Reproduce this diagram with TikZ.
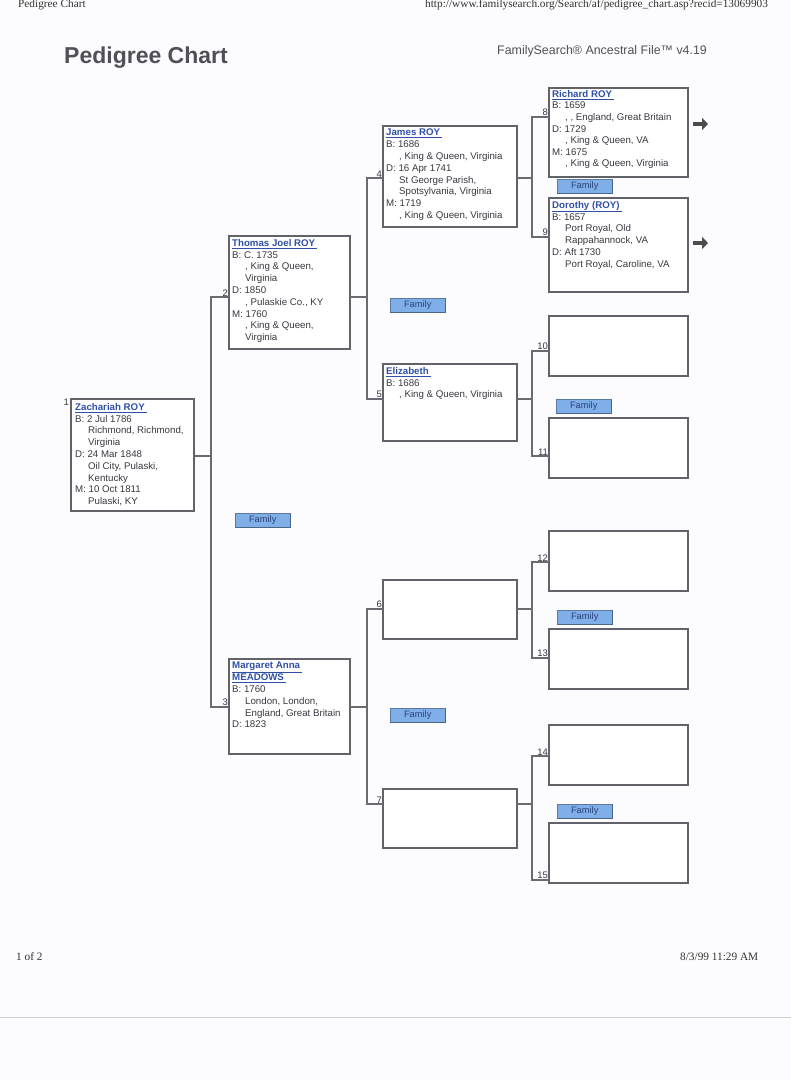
\documentclass[tikz,border=0pt]{standalone}
\usepackage{fontspec}
\setmainfont{Liberation Sans}
\newfontfamily\timesf{Liberation Serif}
\usetikzlibrary{arrows.meta}
\definecolor{pagebg}{HTML}{FCFBFD}
\definecolor{boxline}{HTML}{62626A}
\definecolor{connline}{HTML}{6A6A72}
\definecolor{infotext}{HTML}{383840}
\definecolor{namecol}{HTML}{3050A8}
\definecolor{famfill}{HTML}{80AEE8}
\definecolor{famedge}{HTML}{4A6688}
\definecolor{famtext}{HTML}{2A4478}
\definecolor{titlecol}{HTML}{505058}
\newcommand\pname[1]{\textcolor{namecol}{\bfseries\underline{#1\kern2pt}}}
\newcommand\cnt{\hspace*{13pt}}
\begin{document}
\begin{tikzpicture}[x=1pt,y=-1pt,
  pbox/.style={draw=boxline, line width=1.3pt, fill=white, anchor=north west, inner sep=0pt, outer sep=0pt},
  info/.style={anchor=north west, inner sep=0pt, align=left, font=\fontsize{9.7}{11.8}\selectfont, text=infotext},
  conn/.style={draw=connline, line width=1.1pt},
  numlab/.style={anchor=south east, inner sep=0.8pt, font=\fontsize{9.5}{10}\selectfont, text=infotext},
  fambtn/.style={anchor=north west, fill=famfill, draw=famfill!70!black, line width=0.5pt, minimum width=55pt, minimum height=14pt, inner sep=0pt, font=\fontsize{9.3}{10}\selectfont, text=famtext},
  famshade/.style={draw=famedge, line width=1.2pt},
  morearrow/.style={draw=black!70, line width=4.5pt, -{Triangle[length=6pt,width=12pt]}},
  smallserif/.style={anchor=base west, inner sep=0pt, font=\timesf\fontsize{11.3}{12}\selectfont, text=black!80}]
\useasboundingbox (0,0) rectangle (791,1080);
\fill[pagebg] (0,0) rectangle (791,1080);
\draw[black!18, line width=1pt] (0,1017) -- (791,1017);

% header / footer
\node[smallserif] (hdl) at (18,7) {Pedigree Chart};
\node[smallserif] (hdr) at (425,7) {http://www.familysearch.org/Search/af/pedigree\_chart.asp?recid=13069903};
\node[anchor=base west, inner sep=0pt, font=\bfseries\fontsize{23}{26}\selectfont, text=titlecol] (title) at (64,63) {Pedigree Chart};
\node[anchor=base west, inner sep=0pt, font=\fontsize{12.4}{14}\selectfont, text=titlecol] (fs) at (497,54) {FamilySearch® Ancestral File™ v4.19};
\node[smallserif] (ft1) at (16,960) {1 of 2};
\node[smallserif] (ft2) at (680,960) {8/3/99 11:29 AM};

% boxes
\node[pbox, minimum width=123pt, minimum height=112pt] (p1) at (71,399) {};
\node[pbox, minimum width=121pt, minimum height=113pt] (p2) at (229,236) {};
\node[pbox, minimum width=121pt, minimum height=95pt] (p3) at (229,659) {};
\node[pbox, minimum width=134pt, minimum height=101pt] (p4) at (383,126) {};
\node[pbox, minimum width=134pt, minimum height=77pt] (p5) at (383,364) {};
\node[pbox, minimum width=134pt, minimum height=59pt] (p6) at (383,580) {};
\node[pbox, minimum width=134pt, minimum height=59pt] (p7) at (383,789) {};
\node[pbox, minimum width=139pt, minimum height=89pt] (p8) at (549,88) {};
\node[pbox, minimum width=139pt, minimum height=94pt] (p9) at (549,198) {};
\node[pbox, minimum width=139pt, minimum height=60pt] (p10) at (549,316) {};
\node[pbox, minimum width=139pt, minimum height=60pt] (p11) at (549,418) {};
\node[pbox, minimum width=139pt, minimum height=60pt] (p12) at (549,531) {};
\node[pbox, minimum width=139pt, minimum height=60pt] (p13) at (549,629) {};
\node[pbox, minimum width=139pt, minimum height=60pt] (p14) at (549,725) {};
\node[pbox, minimum width=139pt, minimum height=60pt] (p15) at (549,823) {};

% box texts
\node[info] (t1) at ([xshift=4pt,yshift=-4pt]p1.north west) {\pname{Zachariah ROY}\\B: 2 Jul 1786\\\cnt Richmond, Richmond,\\\cnt Virginia\\D: 24 Mar 1848\\\cnt Oil City, Pulaski,\\\cnt Kentucky\\M: 10 Oct 1811\\\cnt Pulaski, KY};
\node[info] (t2) at ([xshift=3pt,yshift=-3pt]p2.north west) {\pname{Thomas Joel ROY}\\B: C. 1735\\\cnt , King \& Queen,\\\cnt Virginia\\D: 1850\\\cnt , Pulaskie Co., KY\\M: 1760\\\cnt , King \& Queen,\\\cnt Virginia};
\node[info] (t3) at ([xshift=3pt,yshift=-3pt]p3.north west) {\pname{Margaret Anna}\\\pname{MEADOWS}\\B: 1760\\\cnt London, London,\\\cnt England, Great Britain\\D: 1823};
\node[info] (t4) at ([xshift=3pt,yshift=-3pt]p4.north west) {\pname{James ROY}\\B: 1686\\\cnt , King \& Queen, Virginia\\D: 16 Apr 1741\\\cnt St George Parish,\\\cnt Spotsylvania, Virginia\\M: 1719\\\cnt , King \& Queen, Virginia};
\node[info] (t5) at ([xshift=3pt,yshift=-3pt]p5.north west) {\pname{Elizabeth}\\B: 1686\\\cnt , King \& Queen, Virginia};
\node[info, font=\fontsize{9.7}{11.6}\selectfont] (t8) at ([xshift=3pt,yshift=-2pt]p8.north west) {\pname{Richard ROY}\\B: 1659\\\cnt , , England, Great Britain\\D: 1729\\\cnt , King \& Queen, VA\\M: 1675\\\cnt , King \& Queen, Virginia};
\node[info] (t9) at ([xshift=3pt,yshift=-3pt]p9.north west) {\pname{Dorothy (ROY)}\\B: 1657\\\cnt Port Royal, Old\\\cnt Rappahannock, VA\\D: Aft 1730\\\cnt Port Royal, Caroline, VA};

% junction x positions
\coordinate (ja) at (211,0);
\coordinate (jb) at (367,0);
\coordinate (jc) at (532,0);

% connection points
\coordinate (o1) at (p1.east |- 0,456);
\coordinate (i2) at (p2.west |- 0,297);
\coordinate (i3) at (p3.west |- 0,707);
\coordinate (o2) at (p2.east |- 0,297);
\coordinate (o3) at (p3.east |- 0,707);
\coordinate (i4) at (p4.west |- 0,178);
\coordinate (i5) at (p5.west |- 0,399);
\coordinate (i6) at (p6.west |- 0,609);
\coordinate (i7) at (p7.west |- 0,804);
\coordinate (o4) at (p4.east |- 0,178);
\coordinate (o5) at (p5.east |- 0,399);
\coordinate (o6) at (p6.east |- 0,609);
\coordinate (o7) at (p7.east |- 0,804);
\coordinate (i8) at (p8.west |- 0,117);
\coordinate (i9) at (p9.west |- 0,237);
\coordinate (i10) at (p10.west |- 0,351);
\coordinate (i11) at (p11.west |- 0,456);
\coordinate (i12) at (p12.west |- 0,562);
\coordinate (i13) at (p13.west |- 0,658);
\coordinate (i14) at (p14.west |- 0,756);
\coordinate (i15) at (p15.west |- 0,880);

% connectors
\draw[conn] (o1) -- (o1 -| ja);
\draw[conn] (i2) -- (i2 -| ja) -- (i3 -| ja) -- (i3);
\draw[conn] (o2) -- (o2 -| jb);
\draw[conn] (o3) -- (o3 -| jb);
\draw[conn] (i4) -- (i4 -| jb) -- (i5 -| jb) -- (i5);
\draw[conn] (i6) -- (i6 -| jb) -- (i7 -| jb) -- (i7);
\draw[conn] (o4) -- (o4 -| jc);
\draw[conn] (o5) -- (o5 -| jc);
\draw[conn] (o6) -- (o6 -| jc);
\draw[conn] (o7) -- (o7 -| jc);
\draw[conn] (i8) -- (i8 -| jc) -- (i9 -| jc) -- (i9);
\draw[conn] (i10) -- (i10 -| jc) -- (i11 -| jc) -- (i11);
\draw[conn] (i12) -- (i12 -| jc) -- (i13 -| jc) -- (i13);
\draw[conn] (i14) -- (i14 -| jc) -- (i15 -| jc) -- (i15);

% number labels
\node[anchor=north east, inner sep=0.8pt, font=\fontsize{9.5}{10}\selectfont, text=infotext] (n1) at ([xshift=-1pt,yshift=1pt]p1.north west) {1};
\node[numlab] (n2) at (i2) {2};
\node[numlab] (n3) at (i3) {3};
\node[numlab] (n4) at (i4) {4};
\node[numlab] (n5) at (i5) {5};
\node[numlab] (n6) at (i6) {6};
\node[numlab] (n7) at (i7) {7};
\node[numlab] (n8) at (i8) {8};
\node[numlab] (n9) at (i9) {9};
\node[numlab] (n10) at (i10) {10};
\node[numlab] (n11) at (i11) {11};
\node[numlab] (n12) at (i12) {12};
\node[numlab] (n13) at (i13) {13};
\node[numlab] (n14) at (i14) {14};
\node[numlab] (n15) at (i15) {15};

% family buttons
\foreach \nm/\px/\py in {f1/235/513, f2/390/298, f3/557/179, f4/556/399, f5/390/708, f6/557/610, f7/557/804}{
  \node[fambtn] (\nm) at (\px,\py) {Family};
  \draw[famshade] (\nm.north east) -- (\nm.south east) -- (\nm.south west);
}

% more-ancestor arrows
\coordinate (a8s) at ([xshift=5pt]p8.east |- 0,124);
\coordinate (a8e) at ([xshift=20pt]p8.east |- 0,124);
\coordinate (a9s) at ([xshift=5pt]p9.east |- 0,243);
\coordinate (a9e) at ([xshift=20pt]p9.east |- 0,243);
\draw[morearrow] (a8s) -- (a8e);
\draw[morearrow] (a9s) -- (a9e);
\end{tikzpicture}
\end{document}
